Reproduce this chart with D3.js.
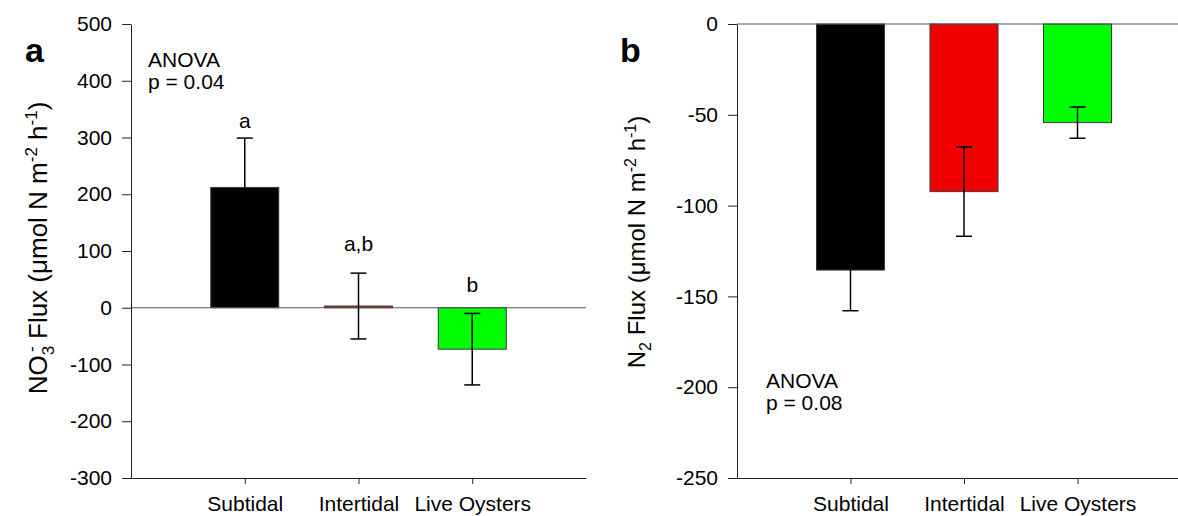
<!DOCTYPE html>
<html><head><meta charset="utf-8">
<script src="https://cdn.jsdelivr.net/npm/d3@7"></script>
<style>
body{margin:0;background:#fff}
svg{display:block}
text{font-family:"Liberation Sans",Arial,sans-serif;fill:#000}
</style>
</head><body>
<svg id="c" width="1178" height="516"></svg>
<script>
// ---- data ----
const categories = ["Subtidal", "Intertidal", "Live Oysters"];
const barColors = ["#000000", "#f20000", "#00ff00"];

const no3Mean = [212, 3, -73];
const no3SE = [87, 58, 63];
const no3Letters = ["a", "a,b", "b"];
const no3LetterAt = [317, 100, 28];
const no3Ticks = [-300, -200, -100, 0, 100, 200, 300, 400, 500];

const n2Mean = [-135.5, -92.3, -54.3];
const n2SE = [22.4, 24.6, 8.6];
const n2Ticks = [-250, -200, -150, -100, -50, 0];

const svg = d3.select("#c");

function panel(opt) {
  const g = svg.append("g").attr("transform", `translate(${opt.left},${opt.top})`);
  const w = opt.width, h = opt.height;
  const x = d3.scalePoint().domain(categories).range([0, w]).padding(1);
  const y = d3.scaleLinear().domain(opt.domain).range([h, 0]);
  const rows = categories.map((c, i) => ({c, m: opt.mean[i], se: opt.se[i], col: barColors[i]}));

  // bars
  const bw = 68;
  g.selectAll("rect.bar").data(rows).join("rect")
    .attr("class", "bar")
    .attr("x", d => x(d.c) - bw / 2)
    .attr("width", bw)
    .attr("y", d => Math.min(y(d.m), y(0)))
    .attr("height", d => Math.abs(y(d.m) - y(0)))
    .attr("fill", d => d.col)
    .attr("stroke", "#3a3a3a").attr("stroke-width", 1);

  // zero line
  g.append("line").attr("x1", 0).attr("x2", w).attr("y1", y(0)).attr("y2", y(0))
    .attr("stroke", "#555").attr("stroke-width", 1.2);

  // error bars
  const cap = 16;
  const eb = g.selectAll("g.eb").data(rows).join("g").attr("class", "eb")
    .attr("stroke", "#000").attr("stroke-width", 1.5);
  eb.append("line").attr("x1", d => x(d.c)).attr("x2", d => x(d.c))
    .attr("y1", d => y(d.m + d.se)).attr("y2", d => y(d.m - d.se));
  eb.append("line").attr("x1", d => x(d.c) - cap / 2).attr("x2", d => x(d.c) + cap / 2)
    .attr("y1", d => y(d.m + d.se)).attr("y2", d => y(d.m + d.se));
  eb.append("line").attr("x1", d => x(d.c) - cap / 2).attr("x2", d => x(d.c) + cap / 2)
    .attr("y1", d => y(d.m - d.se)).attr("y2", d => y(d.m - d.se));

  // y axis
  const ya = g.append("g").call(d3.axisLeft(y).tickValues(opt.ticks).tickFormat(d => String(d))
    .tickSize(9).tickSizeOuter(0).tickPadding(10));
  ya.selectAll("text").attr("font-size", 21).attr("font-family", "Liberation Sans, Arial, sans-serif").attr("fill", "#000");
  ya.selectAll("line,path").attr("stroke", "#222");

  // x axis at bottom
  const xa = g.append("g").attr("transform", `translate(0,${h})`)
    .call(d3.axisBottom(x).tickSize(6).tickSizeOuter(0).tickPadding(12));
  xa.selectAll("text").attr("font-size", 21).attr("font-family", "Liberation Sans, Arial, sans-serif").attr("fill", "#000");
  xa.selectAll("line,path").attr("stroke", "#222");

  // letters
  if (opt.letters) {
    g.selectAll("text.let").data(rows).join("text").attr("class", "let")
      .attr("x", d => x(d.c)).attr("y", (d, i) => y(opt.letterAt[i]))
      .attr("text-anchor", "middle").attr("font-size", 21)
      .text((d, i) => opt.letters[i]);
  }

  // ANOVA
  const an = g.append("text").attr("font-size", 21)
    .attr("transform", `translate(${opt.anova[0]},${opt.anova[1]})`);
  an.append("tspan").attr("x", 0).attr("y", 0).text("ANOVA");
  an.append("tspan").attr("x", 0).attr("y", 22).text(opt.p);

  // panel label
  svg.append("text").attr("x", opt.label[0]).attr("y", opt.label[1])
    .attr("font-size", 34).attr("font-weight", "bold").text(opt.labelText);

  // y title
  const t = svg.append("text").attr("font-size", opt.titleSize).attr("text-anchor", "middle")
    .attr("transform", `translate(${opt.titleX},${opt.titleY}) rotate(-90)`);
  opt.title(t);
}

panel({
  left: 131, top: 24, width: 455, height: 454,
  domain: [-300, 500], ticks: no3Ticks, mean: no3Mean, se: no3SE,
  letters: no3Letters, letterAt: no3LetterAt,
  anova: [17, 43], p: "p = 0.04",
  label: [25, 62], labelText: "a", titleX: 47, titleY: 248, titleSize: 26,
  title: t => {
    t.append("tspan").text("NO");
    t.append("tspan").attr("font-size", 17).attr("dy", 7).text("3");
    t.append("tspan").attr("font-size", 17).attr("dy", -17).attr("dx", -6).text("-");
    t.append("tspan").attr("dy", 10).text(" Flux (μmol N m");
    t.append("tspan").attr("font-size", 17).attr("dy", -10).text("-2");
    t.append("tspan").attr("dy", 10).text(" h");
    t.append("tspan").attr("font-size", 17).attr("dy", -10).text("-1");
    t.append("tspan").attr("dy", 10).text(")");
  }
});

panel({
  left: 737, top: 24, width: 454, height: 454,
  domain: [-250, 0], ticks: n2Ticks, mean: n2Mean, se: n2SE,
  anova: [29, 364], p: "p = 0.08",
  label: [620, 62], labelText: "b", titleX: 645, titleY: 242, titleSize: 24,
  title: t => {
    t.append("tspan").text("N");
    t.append("tspan").attr("font-size", 16).attr("dy", 6).text("2");
    t.append("tspan").attr("dy", -6).text(" Flux (μmol N m");
    t.append("tspan").attr("font-size", 16).attr("dy", -9).text("-2");
    t.append("tspan").attr("dy", 9).text(" h");
    t.append("tspan").attr("font-size", 16).attr("dy", -9).text("-1");
    t.append("tspan").attr("dy", 9).text(")");
  }
});
</script>
</body></html>
